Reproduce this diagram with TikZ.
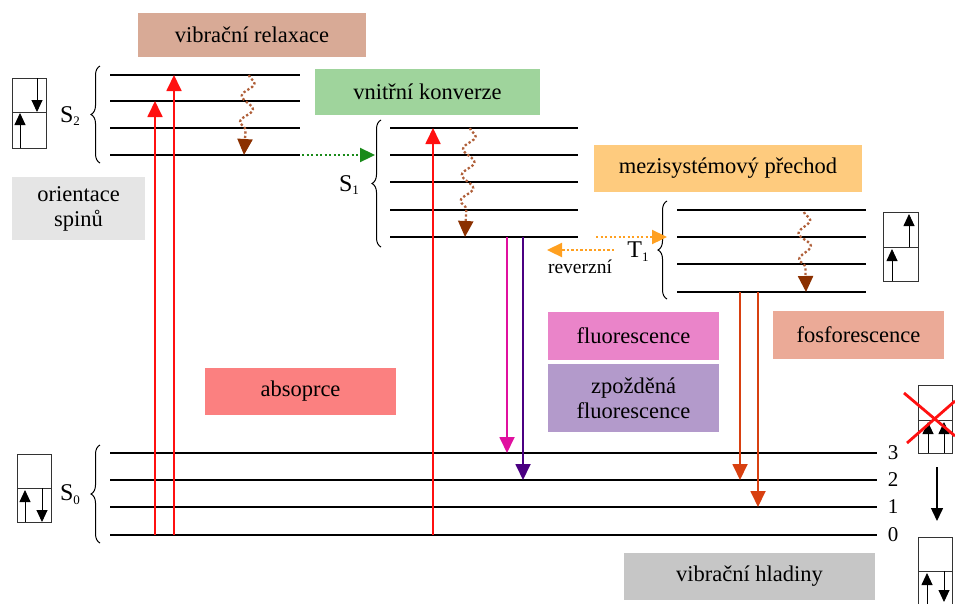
\documentclass[tikz,border=0pt]{standalone}
\usepackage{fontspec}
\setmainfont{Liberation Serif}
\usetikzlibrary{arrows.meta,decorations.pathmorphing,decorations.pathreplacing}

\definecolor{cRelax}{HTML}{D8AA96}
\definecolor{cConv}{HTML}{9FD49C}
\definecolor{cIsc}{HTML}{FECB7E}
\definecolor{cSpin}{HTML}{E5E5E5}
\definecolor{cAbs}{HTML}{FB8080}
\definecolor{cFluo}{HTML}{EA84C9}
\definecolor{cDelay}{HTML}{B39ACB}
\definecolor{cPhos}{HTML}{EBAA97}
\definecolor{cVib}{HTML}{C6C6C6}
\definecolor{aRed}{HTML}{FF1010}
\definecolor{aMag}{HTML}{E0109F}
\definecolor{aPurp}{HTML}{4B0082}
\definecolor{aPhos}{HTML}{D84010}
\definecolor{aWave}{HTML}{B0603A}
\definecolor{aWaveHead}{HTML}{8B3000}
\definecolor{aGreen}{HTML}{1A8A1A}
\definecolor{aOrange}{HTML}{FFA020}

% state symbol with a small lowered index
\newcommand{\stateidx}[2]{#1\raisebox{-0.35ex}{\fontsize{13}{13}\selectfont #2}}

\begin{document}
\begin{tikzpicture}[x=1pt,y=-1pt,
  level/.style={line width=2.4pt, black},
  tag/.style={inner sep=0pt, align=center, font=\fontsize{22.5}{25}\selectfont},
  statelabel/.style={font=\fontsize{24}{26}\selectfont, inner sep=0pt},
  numlabel/.style={font=\fontsize{21}{24}\selectfont, inner sep=0pt},
  sbrace/.style={decorate, decoration={brace, amplitude=9pt}, line width=1pt},
  radiative/.style={line width=1.8pt, -{Triangle[length=16pt,width=15pt]}},
  wavy/.style={aWave, line width=2.3pt, dash pattern=on 2.3pt off 2.2pt,
    decorate, decoration={snake, amplitude=6pt, segment length=26pt, post length=15pt},
    -{Triangle[length=16pt,width=15pt,color=aWaveHead]}},
  dotarrow/.style={line width=2.3pt, dash pattern=on 2.3pt off 2.2pt,
    -{Triangle[length=15pt,width=14pt]}},
  spinframe/.style={draw=black!80, line width=1pt},
  spinarr/.style={line width=0.9pt, -{Triangle[length=12pt,width=11pt]}},
]
\useasboundingbox (0,0) rectangle (955,603);

% ---- coloured caption boxes ----
\node[tag, fill=cRelax, minimum width=228pt, minimum height=44pt] (relax) at (252,35) {vibrační relaxace};
\node[tag, fill=cConv, minimum width=225pt, minimum height=46pt] (conv) at (427.5,92) {vnitřní konverze};
\node[tag, fill=cIsc, minimum width=268pt, minimum height=47pt] (isc) at (728,168.5) {mezisystémový přechod};
\node[tag, fill=cSpin, minimum width=133pt, minimum height=63pt] (spin) at (78.5,208.5) {orientace\\spinů};
\node[tag, fill=cAbs, minimum width=191pt, minimum height=47pt] (abs) at (300.5,391.5) {absoprce};
\node[tag, fill=cFluo, minimum width=171pt, minimum height=48pt] (fluo) at (633.5,335.5) {fluorescence};
\node[tag, fill=cDelay, minimum width=171pt, minimum height=68pt] (delay) at (633.5,398) {zpožděná\\fluorescence};
\node[tag, fill=cPhos, minimum width=171pt, minimum height=48pt] (phos) at (858.5,335) {fosforescence};
\node[tag, fill=cVib, minimum width=251pt, minimum height=47pt] (vib) at (749.5,576.5) {vibrační hladiny};

% ---- energy levels ----
% S2
\foreach \y [count=\i] in {75,101,128,155} {
  \coordinate (sTwoL\i) at (110,\y); \coordinate (sTwoR\i) at (300,\y);
  \draw[level] (sTwoL\i) -- (sTwoR\i);
}
% S1
\foreach \y [count=\i] in {128,155,182,210,237} {
  \coordinate (sOneL\i) at (390,\y); \coordinate (sOneR\i) at (578,\y);
  \draw[level] (sOneL\i) -- (sOneR\i);
}
% T1
\foreach \y [count=\i] in {210,237,264,292} {
  \coordinate (tOneL\i) at (677,\y); \coordinate (tOneR\i) at (866,\y);
  \draw[level] (tOneL\i) -- (tOneR\i);
}
% S0 (vibrational levels 3..0)
\foreach \y/\v in {453/3,480/2,507/1,535/0} {
  \coordinate (sZeroL\v) at (110,\y); \coordinate (sZeroR\v) at (877,\y);
  \draw[level] (sZeroL\v) -- (sZeroR\v);
  \node[numlabel] (num\v) at (893,\y) {\v};
}

% ---- braces and state labels ----
\draw[sbrace] (100,163) -- (100,66);
\node[statelabel] (lSTwo) at (70,116) {\stateidx{S}{2}};
\draw[sbrace] (381,247) -- (381,120);
\node[statelabel] (lSOne) at (349,185) {\stateidx{S}{1}};
\draw[sbrace] (667,299) -- (667,201);
\node[statelabel] (lTOne) at (638,252) {\stateidx{T}{1}};
\draw[sbrace] (100,543) -- (100,445);
\node[statelabel] (lSZero) at (70,495) {\stateidx{S}{0}};

% ---- absorption ----
\coordinate (absA) at (155,535); \coordinate (absAt) at (155,101);
\coordinate (absB) at (174,535); \coordinate (absBt) at (174,75);
\coordinate (absC) at (433,535); \coordinate (absCt) at (433,128);
\draw[radiative, aRed] (absA) -- (absAt);
\draw[radiative, aRed] (absB) -- (absBt);
\draw[radiative, aRed] (absC) -- (absCt);

% ---- fluorescence ----
\coordinate (flA) at (507,237); \coordinate (flAt) at (507,453);
\coordinate (flB) at (523,237); \coordinate (flBt) at (523,480);
\draw[radiative, aMag] (flA) -- (flAt);
\draw[radiative, aPurp] (flB) -- (flBt);

% ---- phosphorescence ----
\coordinate (phA) at (740,292); \coordinate (phAt) at (740,480);
\coordinate (phB) at (758,292); \coordinate (phBt) at (758,507);
\draw[radiative, aPhos] (phA) -- (phAt);
\draw[radiative, aPhos] (phB) -- (phBt);

% ---- vibrational relaxation ----
\coordinate (wvA) at (249,75);  \coordinate (wvAt) at (244,155);
\coordinate (wvB) at (470,128); \coordinate (wvBt) at (465,237);
\coordinate (wvC) at (804,212); \coordinate (wvCt) at (806,292);
\draw[wavy] (wvA) -- (wvAt);
\draw[wavy] (wvB) -- (wvBt);
\draw[wavy] (wvC) -- (wvCt);

% ---- internal conversion / intersystem crossing ----
\coordinate (icA) at (302,155); \coordinate (icAt) at (375,155);
\draw[dotarrow, aGreen] (icA) -- (icAt);
\coordinate (iscA) at (596,237); \coordinate (iscAt) at (667,237);
\draw[dotarrow, aOrange] (iscA) -- (iscAt);
\coordinate (revA) at (614,250); \coordinate (revAt) at (547,250);
\draw[dotarrow, aOrange] (revA) -- (revAt);
\node[font=\fontsize{19.5}{22}\selectfont, inner sep=0pt] (rev) at (580,267) {reverzní};

% ---- spin orientation sketches ----
% S2
\draw[spinframe] (12,78) rectangle (46,148);
\draw[spinframe] (12,112) -- (46,112);
\draw[spinarr] (37,78) -- (37,112);
\draw[spinarr] (20,148) -- (20,113);
% T1
\draw[spinframe] (883,212) rectangle (918,281);
\draw[spinframe] (883,247) -- (918,247);
\draw[spinarr] (909,247) -- (909,214);
\draw[spinarr] (892,281) -- (892,249);
% S0
\draw[spinframe] (17,454) rectangle (51,522);
\draw[spinframe] (17,488) -- (51,488);
\draw[spinarr] (25,522) -- (25,490);
\draw[spinarr] (42,488) -- (42,522);
% forbidden parallel pair
\draw[spinframe] (918,385) rectangle (952,453);
\draw[spinframe] (918,420) -- (952,420);
\draw[spinarr] (928,453) -- (928,422);
\draw[spinarr] (944,453) -- (944,422);
\draw[aRed, line width=2.8pt] (904,393) -- (955,436);
\draw[aRed, line width=2.8pt] (907,443) -- (955,401);
% relaxation step
\coordinate (stepA) at (937,467); \coordinate (stepAt) at (937,521);
\draw[line width=1.5pt, -{Triangle[length=13pt,width=12pt]}] (stepA) -- (stepAt);
% allowed antiparallel pair
\begin{scope}
  \clip (900,530) rectangle (955,603);
  \draw[spinframe] (918,537) rectangle (952,612);
  \draw[spinframe] (918,571) -- (952,571);
  \draw[spinarr] (927,605) -- (927,573);
  \draw[spinarr] (944,571) -- (944,602);
\end{scope}
\end{tikzpicture}
\end{document}
